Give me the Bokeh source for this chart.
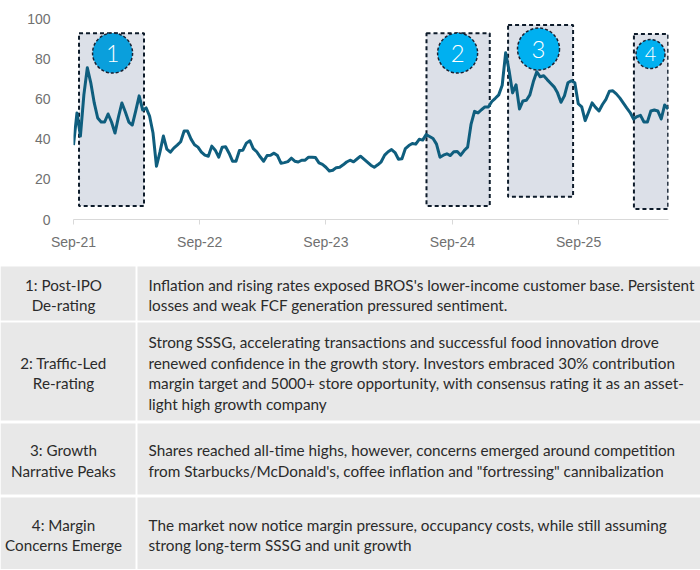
import pandas as pd
from bokeh.plotting import figure
from bokeh.models import Range1d, FixedTicker, DatetimeTickFormatter, ColumnDataSource
from bokeh.embed import file_html
from bokeh.resources import INLINE
from bokeh.core.properties import value

# ---------------- data ----------------
start_date = "2021-09-15"
step = "10D"
prices = [
    37, 53, 41.5, 62, 75.5, 68, 58, 50.5, 48.5, 48.5,
    52.5, 48.5, 43, 51, 58, 53.5, 48.5, 47, 54, 61.5,
    54.5, 55.5, 51.5, 43, 26.5, 33.5, 41.5, 35, 33.5, 35.5,
    37, 38.7, 44, 44, 40, 37.2, 36, 33.5, 32, 31.5,
    36.5, 34.5, 31, 36, 36.2, 33, 29, 29, 34.3, 34.5,
    38, 39.2, 35.3, 33.7, 31.2, 29, 31.8, 32, 33, 31.8,
    28, 28.3, 28.8, 30.5, 29, 28.6, 29.5, 29.5, 31, 31,
    30.8, 28.2, 27.4, 26, 24.1, 24.5, 25.8, 26, 27.2, 28.6,
    29.5, 28.7, 30.1, 31.5, 30, 28.5, 27, 26, 27.2, 28.7,
    32, 33.7, 34.8, 33.3, 30, 30.2, 35.3, 36.8, 37.8, 37.5,
    39.9, 39.5, 42.2, 41.3, 40.3, 37.5, 31, 32, 32.7, 31.8,
    33.7, 33.8, 32, 34.3, 36, 47.5, 53.8, 53, 54.6, 56,
    56, 58.7, 60.3, 62, 66.8, 83, 74, 63, 67, 55,
    59, 59.3, 62, 68.5, 73.5, 71, 71.5, 69.6, 67.8, 66,
    63, 58.3, 61.5, 68, 69, 68, 57.6, 56, 49.2, 53.5,
    58, 55.8, 54, 57.2, 59.8, 63.8, 64, 62.5, 60.5, 58,
    55.5, 53.2, 50, 51.2, 51.8, 48.5, 48.5, 54, 54.5, 54,
    50, 57, 55,
]
tick_dates = ["2021-09-15", "2022-09-15", "2023-09-15", "2024-09-15", "2025-09-15"]
y_ticks = [0, 20, 40, 60, 80, 100]

phase_numbers = ["1", "2", "3", "4"]
phase_left = ["2021-10-01", "2024-07-02", "2025-02-23", "2026-02-22"]
phase_right = ["2022-04-07", "2025-01-01", "2025-08-30", "2026-06-01"]
phase_bottom = [6.7, 6.7, 11.3, 5.2]
phase_top = [92.6, 92.6, 96.8, 92.3]
badge_date = ["2022-01-06", "2024-09-30", "2025-05-22", "2026-04-11"]
badge_value = [82.8, 82.8, 84.8, 82.3]
badge_size = [40, 40, 42, 29]
badge_font = ["23px", "24px", "24px", "20px"]
badge_color = ["#0a9fdc", "#00b0f0", "#00b0f0", "#00b0f0"]

phase_titles = [
    ["1: Post-IPO", "De-rating"],
    ["2: Traffic-Led", "Re-rating"],
    ["3: Growth", "Narrative Peaks"],
    ["4: Margin", "Concerns Emerge"],
]
phase_texts = [
    ["Inflation and rising rates exposed BROS's lower-income customer base. Persistent",
     "losses and weak FCF generation pressured sentiment."],
    ["Strong SSSG, accelerating transactions and successful food innovation drove",
     "renewed confidence in the growth story. Investors embraced 30% contribution",
     "margin target and 5000+ store opportunity, with consensus rating it as an asset-",
     "light high growth company"],
    ["Shares reached all-time highs, however, concerns emerged around competition",
     "from Starbucks/McDonald's, coffee inflation and \"fortressing\" cannibalization"],
    ["The market now notice margin pressure, occupancy costs, while still assuming",
     "strong long-term SSSG and unit growth"],
]

# ---------------- chart ----------------
dates = pd.date_range(start=start_date, periods=len(prices), freq=step)
x_end = dates[-1] + pd.Timedelta(days=1)

p = figure(width=700, height=254, x_axis_type="datetime",
           x_range=Range1d(pd.Timestamp(start_date), x_end),
           y_range=Range1d(0, 100),
           toolbar_location=None, output_backend="svg",
           min_border_left=73, min_border_right=32,
           min_border_top=18, min_border_bottom=35)
p.outline_line_color = None
p.grid.visible = False
p.background_fill_color = "white"

boxes = ColumnDataSource(dict(
    left=pd.to_datetime(phase_left), right=pd.to_datetime(phase_right),
    bottom=phase_bottom, top=phase_top))
p.quad(left="left", right="right", bottom="bottom", top="top", source=boxes,
       fill_color="#dce0e8", line_color="#0d1b2a", line_width=2, line_dash="4 3")

p.line(dates, prices, line_color="#0f5e7e", line_width=3, line_join="round")

badges = ColumnDataSource(dict(x=pd.to_datetime(badge_date), y=badge_value,
                               size=badge_size, label=phase_numbers,
                               fs=badge_font, color=badge_color))
p.scatter(x="x", y="y", size="size", source=badges, marker="circle",
          fill_color="color", line_color="#1a2233", line_width=1.5, line_dash="3 2")
p.text(x="x", y="y", text="label", source=badges, text_color="white",
       text_font=value("Lato Light"), text_font_size="fs",
       text_align="center", text_baseline="middle")

xa = p.xaxis[0]
xa.ticker = FixedTicker(ticks=[pd.Timestamp(d).timestamp() * 1000 for d in tick_dates])
xa.formatter = DatetimeTickFormatter(years="%b-%y", months="%b-%y", days="%b-%y",
                                     hours="%b-%y", minutes="%b-%y", seconds="%b-%y",
                                     milliseconds="%b-%y", microseconds="%b-%y")
xa.axis_line_color = "#d9d9d9"
xa.major_tick_line_color = "#d9d9d9"
xa.major_tick_in = 0
xa.major_tick_out = 5
xa.minor_tick_line_color = None
xa.major_label_standoff = 9
xa.major_label_text_color = "#707070"
xa.major_label_text_font = "Liberation Sans"
xa.major_label_text_font_size = "14px"

ya = p.yaxis[0]
ya.ticker = FixedTicker(ticks=y_ticks)
ya.axis_line_color = None
ya.major_tick_line_color = None
ya.minor_tick_line_color = None
ya.major_label_standoff = 17
ya.major_label_text_color = "#707070"
ya.major_label_text_font = "Liberation Sans"
ya.major_label_text_font_size = "14px"

# ---------------- table ----------------
T_W, T_H = 700, 315
t = figure(width=T_W, height=T_H, x_range=Range1d(0, T_W), y_range=Range1d(T_H, 0),
           toolbar_location=None, output_backend="svg", min_border=0)
t.axis.visible = False
t.grid.visible = False
t.outline_line_color = None

row_top = [12, 68, 169, 243]
row_bot = [66, 166, 240, 315]
t.quad(left=[0] * 4, right=[135] * 4, top=row_top, bottom=row_bot,
       fill_color="#e8e8e8", line_color=None)
t.quad(left=[137] * 4, right=[T_W] * 4, top=row_top, bottom=row_bot,
       fill_color="#e8e8e8", line_color=None)

lh = 20.6
lx, ly, lt, rx, ry, rt = [], [], [], [], [], []
for i in range(4):
    c = (row_top[i] + row_bot[i]) / 2 + 1.5
    n = len(phase_titles[i])
    for k, s in enumerate(phase_titles[i]):
        lx.append(63); ly.append(c + (k - (n - 1) / 2) * lh); lt.append(s)
    n = len(phase_texts[i])
    for k, s in enumerate(phase_texts[i]):
        rx.append(148); ry.append(c + (k - (n - 1) / 2) * lh); rt.append(s)

t.text(x=lx, y=ly, text=lt, text_font=value("Lato"), text_font_size="15.2px",
       text_color="#2b2b2b", text_align="center", text_baseline="middle")
t.text(x=rx, y=ry, text=rt, text_font=value("Lato"), text_font_size="15.3px",
       text_color="#2b2b2b", text_align="left", text_baseline="middle")

open("out.html", "w").write(file_html([p, t], INLINE))
